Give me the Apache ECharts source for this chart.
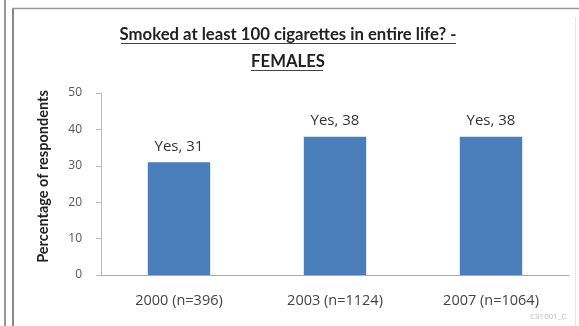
<!DOCTYPE html>
<html><head><meta charset="utf-8">
<script src="https://cdn.jsdelivr.net/npm/echarts@6/dist/echarts.min.js"></script>
<style>html,body{margin:0;padding:0;background:#fff}#c{width:579px;height:326px}</style>
</head><body><div id="c"></div>
<script>
const categories = ['2000 (n=396)', '2003 (n=1124)', '2007 (n=1064)'];
const values = [31, 38, 38];
const labelPrefix = ['Yes', 'Yes', 'Yes'];
const yTicks = [0, 10, 20, 30, 40, 50];
const titleLines = ['Smoked at least 100 cigarettes in entire life? -', 'FEMALES'];

const chart = echarts.init(document.getElementById('c'), null, {renderer: 'canvas'});
const TF = 'Lato';
const LF = 'Open Sans';

chart.setOption({
  animation: false,
  title: {
    text: titleLines.join('\n'),
    left: 288, top: 21, textAlign: 'center', padding: 0,
    textStyle: {fontFamily: TF, fontWeight: 'bold', fontSize: 16.7, color: '#222', lineHeight: 27}
  },
  grid: {left: 101, right: 10, top: 93, bottom: 51},
  xAxis: {
    type: 'category', data: categories,
    axisLine: {lineStyle: {color: '#aaa'}},
    axisTick: {show: false},
    axisLabel: {fontFamily: LF, fontSize: 14.5, color: '#444', margin: 18}
  },
  yAxis: {
    type: 'value', min: 0, max: 50, interval: 10,
    name: 'Percentage of respondents', nameLocation: 'middle', nameGap: 50, nameRotate: 90,
    nameTextStyle: {fontFamily: TF, fontWeight: 'bold', fontSize: 14.5, color: '#222', padding: [0, 0, 0, 15]},
    axisLine: {show: true, lineStyle: {color: '#bbb'}},
    axisTick: {show: true, length: 5, lineStyle: {color: '#bbb'}},
    splitLine: {show: false},
    axisLabel: {fontFamily: LF, fontSize: 12, color: '#555', margin: 19}
  },
  series: [{
    type: 'bar', data: values, barWidth: '40%',
    itemStyle: {color: '#4A7EBB'},
    label: {show: true, position: 'top', distance: 8, fontFamily: LF, fontSize: 15, color: '#333',
      formatter: p => labelPrefix[p.dataIndex] + ', ' + p.value}
  }],
  graphic: [
    {type: 'line', shape: {x1: 121, y1: 43.5, x2: 456, y2: 43.5}, style: {stroke: '#444', lineWidth: 1}},
    {type: 'line', shape: {x1: 251, y1: 70.5, x2: 323, y2: 70.5}, style: {stroke: '#444', lineWidth: 1}},
    {type: 'line', shape: {x1: 5, y1: 0, x2: 5, y2: 326}, style: {stroke: '#999', lineWidth: 2}},
    {type: 'line', shape: {x1: 13, y1: 8, x2: 13, y2: 326}, style: {stroke: '#888', lineWidth: 2}},
    {type: 'line', shape: {x1: 12, y1: 8.5, x2: 579, y2: 8.5}, style: {stroke: '#999', lineWidth: 1.5}},
    {type: 'line', shape: {x1: 575.5, y1: 17, x2: 575.5, y2: 326}, style: {stroke: '#e6e6e6', lineWidth: 1}},
    {type: 'text', left: 530, top: 313, style: {text: 'C31001_C', fontFamily: LF, fontSize: 8, fill: '#bbb'}}
  ]
});
</script></body></html>
